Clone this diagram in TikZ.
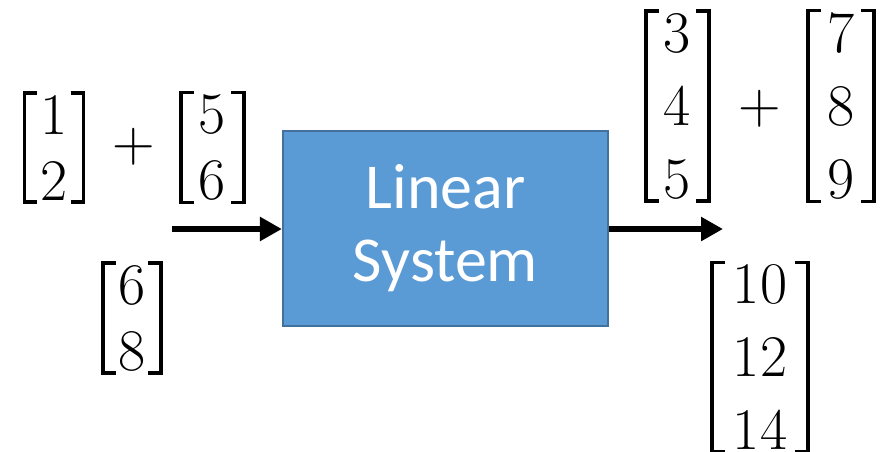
\documentclass[tikz,border=0pt]{standalone}
\usepackage{fontspec}
\newfontfamily\boxfont{Carlito}
\usetikzlibrary{arrows.meta}
\definecolor{sysfill}{HTML}{5B9BD5}
\definecolor{sysedge}{HTML}{41719C}
\tikzset{
  sysbox/.style={draw=sysedge, line width=2.2pt, fill=sysfill, minimum width=325pt,
    minimum height=195pt, inner sep=0pt, text=white, align=center,
    font=\boxfont\fontsize{64}{73}\selectfont},
  vectwo/.style={inner ysep=2pt, align=center, font=\fontsize{59}{66}\selectfont},
  vecthree/.style={inner ysep=2pt, align=center, font=\fontsize{59}{73}\selectfont},
  plusop/.style={inner sep=0pt, font=\fontsize{59}{66}\selectfont},
  brk/.style={line width=3.5pt, miter limit=10},
  flow/.style={line width=6.5pt, -{Triangle[length=22pt,width=23pt]}}
}
% square brackets around a column-vector node
\newcommand\vecbrackets[1]{%
  \draw[brk] ([xshift=13pt]#1.north west) -- (#1.north west) -- (#1.south west) -- ([xshift=13pt]#1.south west);
  \draw[brk] ([xshift=-13pt]#1.north east) -- (#1.north east) -- (#1.south east) -- ([xshift=-13pt]#1.south east);
}
\begin{document}
\begin{tikzpicture}[x=1pt,y=-1pt]
\useasboundingbox (0,0) rectangle (889,451);
% the system block
\node[sysbox] (sys) at (445.5,228.5) {Linear\\System};
% input vectors
\node[vectwo, inner xsep=16pt] (inA) at (54,147.5) {1\\2};
\node[plusop] (inPlus) at (134,147) {+};
\node[vectwo, inner xsep=18pt] (inB) at (212.5,147.5) {5\\6};
\node[vectwo, inner xsep=15.25pt] (inC) at (132,318) {6\\8};
% output vectors
\node[vecthree, inner xsep=17.75pt] (outA) at (677.5,106) {3\\4\\5};
\node[plusop] (outPlus) at (760,109) {+};
\node[vecthree, inner xsep=19.25pt] (outB) at (841,106) {7\\8\\9};
\node[vecthree, inner xsep=20.5pt] (outC) at (760,357) {10\\12\\14};
\vecbrackets{inA}
\vecbrackets{inB}
\vecbrackets{inC}
\vecbrackets{outA}
\vecbrackets{outB}
\vecbrackets{outC}
% signal flow
\coordinate (src) at (172,229);
\coordinate (dst) at (723,229);
\draw[flow] (src) -- (src -| sys.west);
\draw[flow] (dst -| sys.east) -- (dst);
\end{tikzpicture}
\end{document}
